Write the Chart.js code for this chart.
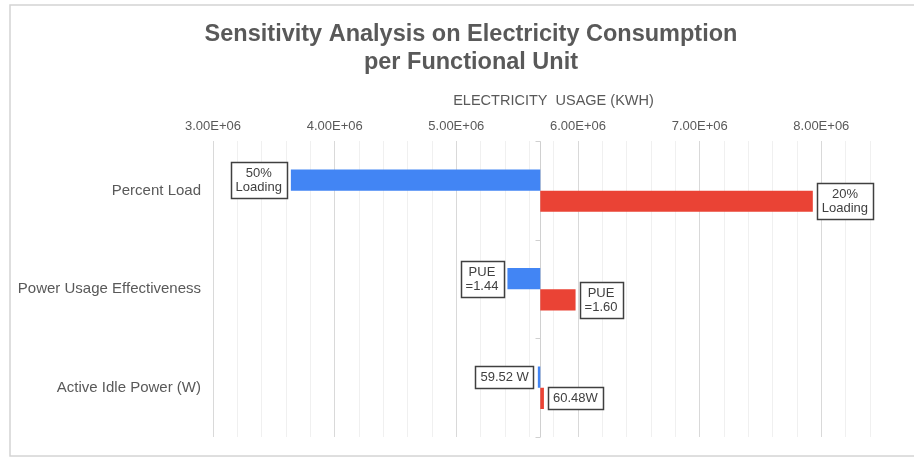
<!DOCTYPE html>
<html>
<head>
<meta charset="utf-8">
<script src="https://cdn.jsdelivr.net/npm/chart.js@4"></script>
<style>
  html, body { margin: 0; padding: 0; background: #fff; }
  #cvs { display: block; }
</style>
</head>
<body>
<canvas id="cvs" width="914" height="458"></canvas>
<script>
// data
const categories = ['Percent Load', 'Power Usage Effectiveness', 'Active Idle Power (W)'];
const baseline = 5.69e6;
const lowValues = [3.64e6, 5.42e6, 5.67e6];
const highValues = [7.93e6, 5.98e6, 5.72e6];
const lowLabels = ['50%\nLoading', 'PUE\n=1.44', '59.52 W'];
const highLabels = ['20%\nLoading', 'PUE\n=1.60', '60.48W'];
const xMin = 3.0e6, xMax = 8.4e6, xMinor = 2e5, xMajor = 1e6;

const textColor = '#595959';
Chart.defaults.font.family = "'Liberation Sans', Arial, sans-serif";
Chart.defaults.color = textColor;

// 3.00E+06 style
function sci(v) {
  const parts = v.toExponential(2).split('e');
  let exp = parseInt(parts[1], 10);
  const sign = exp < 0 ? '-' : '+';
  exp = Math.abs(exp);
  return parts[0].toUpperCase() + 'E' + sign + (exp < 10 ? '0' + exp : exp);
}

// outer frame (left, top, bottom visible)
const framePlugin = {
  id: 'frame',
  afterLayout(chart) {
    // let the long category names run past the left padding without being clipped
    chart.scales.y.left = 0;
    // axis title sits a little right of the plot centre in the original
    chart.scales.x.left += 24;
  },
  beforeDraw(chart) {
    const ctx = chart.ctx;
    ctx.save();
    ctx.fillStyle = '#fff';
    ctx.fillRect(0, 0, chart.width, chart.height);
    ctx.strokeStyle = '#d4d4d4';
    ctx.lineWidth = 1.5;
    ctx.strokeRect(10, 5, chart.width + 20, 451);
    ctx.restore();
  }
};

// vertical line at the baseline with small ticks between categories
const baseLinePlugin = {
  id: 'baseLine',
  beforeDatasetsDraw(chart) {
    const {ctx, chartArea, scales} = chart;
    const x = Math.round(scales.x.getPixelForValue(baseline)) + 0.5;
    const step = (chartArea.bottom - chartArea.top) / categories.length;
    ctx.save();
    ctx.strokeStyle = '#d0d0d0';
    ctx.lineWidth = 1;
    ctx.beginPath();
    ctx.moveTo(x, chartArea.top);
    ctx.lineTo(x, chartArea.bottom);
    for (let i = 0; i <= categories.length; i++) {
      const y = Math.round(chartArea.top + i * step) + 0.5;
      ctx.moveTo(x - 5, y);
      ctx.lineTo(x, y);
    }
    ctx.stroke();
    ctx.restore();
  }
};

// boxed labels at the bar ends
const boxLabelPlugin = {
  id: 'boxLabels',
  afterDatasetsDraw(chart) {
    const ctx = chart.ctx;
    ctx.save();
    ctx.font = "13px 'Liberation Sans', Arial, sans-serif";
    ctx.textAlign = 'center';
    ctx.textBaseline = 'middle';
    const lineH = 14, padX = 5, padY = 4, gap = 4;
    chart.data.datasets.forEach((ds, di) => {
      const meta = chart.getDatasetMeta(di);
      meta.data.forEach((bar, i) => {
        const lines = ds.boxLabels[i].split('\n');
        const w = Math.max(...lines.map(l => ctx.measureText(l).width)) + padX * 2;
        const h = lines.length * lineH + padY * 2;
        const left = Math.min(bar.x, bar.base);
        const right = Math.max(bar.x, bar.base);
        const bx = di === 0 ? left - gap - w : right + gap;
        const by = bar.y - h / 2;
        ctx.fillStyle = '#fff';
        ctx.fillRect(bx, by, w, h);
        ctx.strokeStyle = '#404040';
        ctx.lineWidth = 1.5;
        ctx.strokeRect(Math.round(bx) + 0.5, Math.round(by) + 0.5, Math.round(w), Math.round(h));
        ctx.fillStyle = '#404040';
        lines.forEach((l, k) => {
          ctx.fillText(l, bx + w / 2, by + padY + lineH * k + lineH / 2 + 0.5);
        });
      });
    });
    ctx.restore();
  }
};

const canvas = document.getElementById('cvs');
const tornado = new Chart(canvas.getContext('2d'), {
  type: 'bar',
  data: {
    labels: categories,
    datasets: [
      {
        label: 'Low',
        data: lowValues.map(v => [baseline, v]),
        boxLabels: lowLabels,
        backgroundColor: '#4285F4',
        borderWidth: 0,
        categoryPercentage: 0.43,
        barPercentage: 1.0
      },
      {
        label: 'High',
        data: highValues.map(v => [baseline, v]),
        boxLabels: highLabels,
        backgroundColor: '#EA4335',
        borderWidth: 0,
        categoryPercentage: 0.43,
        barPercentage: 1.0
      }
    ]
  },
  options: {
    indexAxis: 'y',
    responsive: false,
    animation: false,
    layout: { padding: { left: 72, right: 44, top: 0, bottom: 15 } },
    plugins: {
      legend: { display: false },
      tooltip: { enabled: false },
      title: {
        display: true,
        text: ['Sensitivity Analysis on Electricity Consumption', 'per Functional Unit'],
        color: textColor,
        font: { size: 23.5, weight: 'bold' },
        padding: { top: 20, bottom: 6 }
      }
    },
    scales: {
      x: {
        position: 'top',
        min: xMin,
        max: xMax,
        afterFit(scale) { scale.height = 59; },
        title: {
          display: true,
          text: 'ELECTRICITY  USAGE (KWH)',
          color: textColor,
          font: { size: 14.5 },
          padding: { top: 10, bottom: 4 }
        },
        ticks: {
          stepSize: xMinor,
          autoSkip: false,
          maxRotation: 0,
          padding: 7,
          color: textColor,
          font: { size: 13 },
          callback: (v) => (Math.round(v) % xMajor === 0 ? sci(v) : '')
        },
        grid: {
          drawTicks: false,
          color: (c) => (c.tick && Math.round(c.tick.value) % xMajor === 0 ? '#d9d9d9' : '#f0f0f0')
        },
        border: { display: false }
      },
      y: {
        afterFit(scale) { scale.width = 141; },
        grid: { display: false, drawTicks: false },
        border: { display: false },
        ticks: {
          padding: 12,
          color: textColor,
          font: { size: 15 }
        }
      }
    }
  },
  plugins: [framePlugin, baseLinePlugin, boxLabelPlugin]
});
</script>
</body>
</html>
